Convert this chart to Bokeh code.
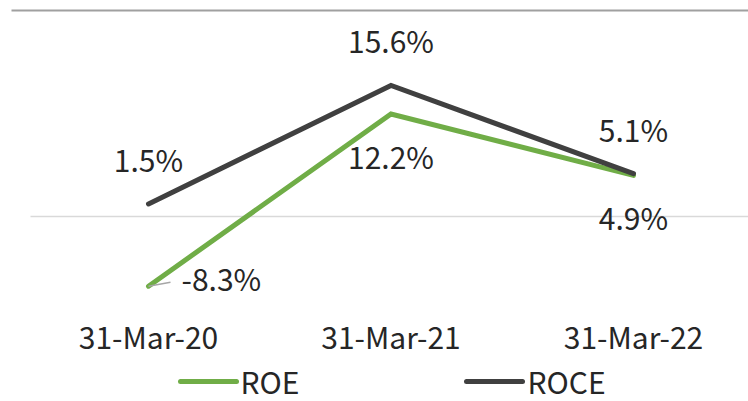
from bokeh.plotting import figure
from bokeh.models import Range1d
from bokeh.core.properties import value
from bokeh.embed import file_html
from bokeh.resources import INLINE

categories = ["31-Mar-20", "31-Mar-21", "31-Mar-22"]
series_names = ["ROE", "ROCE"]
roe = [-8.3, 12.2, 4.9]
roce = [1.5, 15.6, 5.1]
roe_labels = ["-8.3%", "12.2%", "4.9%"]
roce_labels = ["1.5%", "15.6%", "5.1%"]

FONT = "Noto Sans CJK JP"
FS = "30px"
TXT = "#262626"
GREEN = "#70AD47"
DARK = "#404040"

W, H = 748, 401
# pixel mapping (figure coordinates)
x0_px, dx_px = 148.0, 242.5
y0_px, dy_px = 216.0, 8.4
SH = 13  # baseline compensation for font metrics


def xd(px):
    return (px - x0_px) / dx_px


def yd(py):
    return (y0_px - py) / dy_px


p = figure(width=W, height=H, output_backend="svg", toolbar_location=None,
           x_range=Range1d(xd(0), xd(W)), y_range=Range1d(yd(H), yd(0)),
           min_border=0, min_border_left=0, min_border_right=0,
           min_border_top=0, min_border_bottom=0)
p.axis.visible = False
p.grid.visible = False
p.outline_line_color = None
p.background_fill_color = "white"

xs = list(range(len(categories)))

# top border line and zero line
p.segment(x0=[xd(11)], y0=[yd(10)], x1=[xd(W)], y1=[yd(10)],
          line_color="#a0a0a0", line_width=2)
p.segment(x0=[xd(30)], y0=[0], x1=[xd(W)], y1=[0],
          line_color="#d9d9d9", line_width=1.5)

p.line(xs, roe, line_color=GREEN, line_width=5, line_cap="round", line_join="miter")
p.line(xs, roce, line_color=DARK, line_width=5, line_cap="round", line_join="miter")

# leader line for first ROE label
p.segment(x0=[xs[0]], y0=[roe[0]], x1=[xs[0] + 22 / dx_px], y1=[roe[0] + 4 / dy_px],
          line_color="#a6a6a6", line_width=1.5)

# ROCE labels above points
p.text(x=xs, y=roce, text=roce_labels, y_offset=-32 - SH, text_align="center",
       text_baseline="alphabetic", text_font=value(FONT), text_font_size=FS, text_color=TXT)
# ROE labels
p.text(x=xs[1:], y=roe[1:], text=roe_labels[1:], y_offset=55 - SH, text_align="center",
       text_baseline="alphabetic", text_font=value(FONT), text_font_size=FS, text_color=TXT)
p.text(x=[xs[0]], y=[roe[0]], text=[roe_labels[0]], x_offset=33, y_offset=5 - SH, text_align="left",
       text_baseline="alphabetic", text_font=value(FONT), text_font_size=FS, text_color=TXT)

# category labels
p.text(x=xs, y=[yd(348)] * 3, y_offset=-SH, text=categories, text_align="center",
       text_baseline="alphabetic", text_font=value(FONT), text_font_size=FS, text_color=TXT)

# legend (drawn manually)
p.segment(x0=[xd(180), xd(466)], y0=[yd(381)] * 2, x1=[xd(236), xd(522)], y1=[yd(381)] * 2,
          line_color=[GREEN, DARK], line_width=5, line_cap="round")
p.text(x=[xd(240), xd(527)], y=[yd(393)] * 2, y_offset=-SH, text=series_names,
       text_align="left", text_baseline="alphabetic", text_font=value(FONT),
       text_font_size=FS, text_color=TXT)

open("out.html", "w").write(file_html(p, INLINE))
